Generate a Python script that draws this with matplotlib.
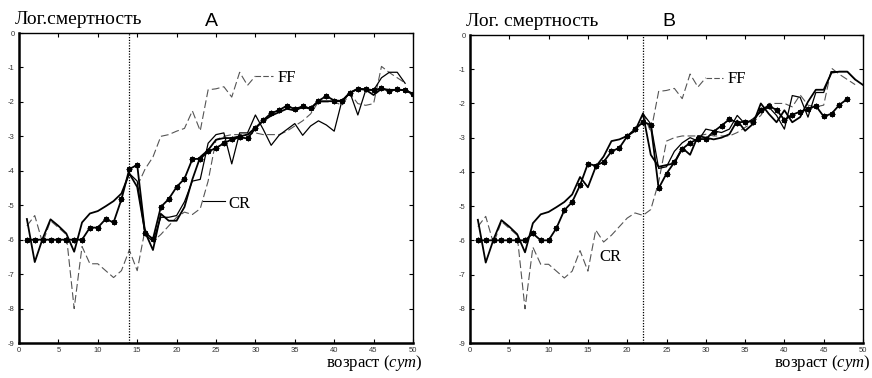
import numpy as np
import matplotlib
matplotlib.use("Agg")
import matplotlib.pyplot as plt

# --- data (day, log mortality) ---
days = np.arange(1, 51)

# control on restricted diet (same in both panels)
cr_ctrl = [-5.6, -5.3, -6.1, -5.45, -5.65, -5.85, -8.0, -6.2, -6.7, -6.7,
           -6.9, -7.1, -6.9, -6.3, -6.9, -5.7, -6.05, -5.85, -5.6, -5.35,
           -5.2, -5.27, -5.1, -4.3, -3.1, -3.0, -2.95, -2.95, -2.95, -2.9,
           -2.95, -2.95, -2.95, -2.85, -2.7, -2.55, -2.35, -2.0, -2.0, -2.0,
           -2.1, -1.75, -2.05, -2.1, -2.05, -0.97, -1.15, -1.3, -1.45]
# control on full diet, days 15..30
ff_days = np.arange(15, 31)
ff_ctrl = [-4.45, -3.95, -3.6, -3.0, -2.95, -2.85, -2.77, -2.26, -2.84, -1.65,
           -1.62, -1.56, -1.86, -1.14, -1.52, -1.25]

early_solid = [-5.4, -6.65, -5.97, -5.41, -5.6, -5.82, -6.35, -5.5, -5.24, -5.17,
               -5.03, -4.88, -4.66]

# panel A, switch at day 14
a_switch = 14
a_star = [-6.0, -6.0, -6.0, -6.0, -6.0, -6.0, -6.0, -6.0, -5.65, -5.65,
          -5.4, -5.5, -4.83, -3.95, -3.83, -5.8, -5.98, -5.05, -4.82, -4.47,
          -4.23, -3.66, -3.65, -3.44, -3.34, -3.2, -3.09, -3.03, -3.06, -2.77,
          -2.53, -2.33, -2.24, -2.11, -2.21, -2.13, -2.19, -1.97, -1.83, -1.96,
          -1.97, -1.74, -1.62, -1.63, -1.66, -1.61, -1.68, -1.64, -1.66, -1.76]
a_solid = early_solid + [-4.08, -4.47, -5.78, -6.3, -5.25, -5.45, -5.45, -5.05, -4.25, -3.6,
                         -3.4, -3.1, -3.05, -3.05, -3.0, -2.95, -2.75, -2.55, -2.4, -2.3,
                         -2.2, -2.25, -2.15, -2.2, -1.98, -1.98, -1.98, -1.98, -1.73, -1.62,
                         -1.65, -1.8, -1.62, -1.65, -1.65, -1.66, -1.78]
a_thin_days = np.arange(14, 50)
a_thin = [-4.08, -4.3, -5.85, -6.05, -5.35, -5.35, -5.3, -4.9, -4.3, -4.25,
          -3.2, -2.95, -2.9, -3.8, -2.9, -2.9, -2.38, -2.8, -3.26, -2.97,
          -2.8, -2.63, -2.97, -2.7, -2.55, -2.67, -2.85, -1.95, -1.73, -2.38,
          -1.66, -1.66, -1.3, -1.14, -1.14, -1.46]

# panel B, switch at day 22
b_switch = 22
b_star = [-6.0, -6.0, -6.0, -6.0, -6.0, -6.0, -6.0, -5.8, -6.0, -6.0,
          -5.64, -5.12, -4.88, -4.39, -3.76, -3.82, -3.71, -3.4, -3.3, -2.96,
          -2.75, -2.55, -2.62, -4.48, -4.05, -3.72, -3.33, -3.15, -3.04, -3.04,
          -2.82, -2.65, -2.46, -2.56, -2.53, -2.53, -2.19, -2.07, -2.19, -2.48,
          -2.33, -2.24, -2.17, -2.07, -2.38, -2.3, -2.04, -1.87]
b_solid = early_solid + [-4.15, -4.45, -3.85, -3.55, -3.1, -3.05, -2.95, -2.8, -2.3, -3.5,
                         -3.85, -3.8, -3.75, -3.3, -3.5, -2.95, -3.0, -3.05, -3.0, -2.9,
                         -2.5, -2.8, -2.6, -2.0, -2.3, -2.55, -2.2, -2.55, -2.4, -1.95,
                         -1.6, -1.6, -1.1, -1.07, -1.07, -1.3, -1.46]
b_thin_days = np.arange(22, 50)
b_thin = [-2.3, -2.6, -3.9, -3.85, -3.4, -3.15, -3.0, -3.1, -2.75, -2.8,
          -2.85, -2.75, -2.35, -2.6, -2.45, -2.25, -2.1, -2.35, -2.75, -1.77,
          -1.82, -2.4, -1.68, -1.68, -1.07, -1.07, -1.07, -1.3]

serif = ['Liberation Serif', 'DejaVu Serif']
sans = ['Liberation Sans', 'DejaVu Sans']
plt.rcParams['font.family'] = sans
plt.rcParams['axes.unicode_minus'] = False
plt.rcParams['mathtext.fontset'] = 'custom'
plt.rcParams['mathtext.rm'] = 'Liberation Serif'
plt.rcParams['mathtext.it'] = 'Liberation Serif:italic'


def style(ax):
    ax.set_xlim(0, 50)
    ax.set_ylim(-9, 0)
    ax.set_xticks(range(0, 51, 5))
    ax.set_yticks(range(-9, 1))
    ax.tick_params(direction='in', top=True, right=True, length=3, width=0.8,
                   labelsize=5.5, labelcolor='#333333', pad=3)
    for s in ['top', 'right']:
        ax.spines[s].set_linewidth(1.0)
    for s in ['left', 'bottom']:
        ax.spines[s].set_linewidth(1.8)


def draw(ax, switch, star, solid, thin_days, thin, ff_from):
    ax.plot(days[:len(cr_ctrl)], cr_ctrl, color='#555555', lw=0.8, dashes=(7, 3))
    i0 = list(ff_days).index(ff_from)
    ax.plot(ff_days[i0:], ff_ctrl[i0:], color='#555555', lw=0.8, dashes=(7, 3))
    ax.plot(thin_days, thin, color='black', lw=0.9)
    ax.plot(days[:len(solid)], solid, color='black', lw=1.3)
    ax.plot(days[:len(star)], star, color='black', lw=1.3,
            marker=(8, 2, 0), ms=4, mew=0.9)
    ax.axvline(switch, color='black', lw=0.9, ls=(0, (1, 1.2)))
    style(ax)


fig = plt.figure(figsize=(8.72, 3.78), dpi=100)
axA = fig.add_axes([19 / 872, 35 / 378, 394 / 872, 310 / 378])
axB = fig.add_axes([470 / 872, 35 / 378, 393 / 872, 308 / 378])

draw(axA, a_switch, a_star, a_solid, a_thin_days, a_thin, 15)
draw(axB, b_switch, b_star, b_solid, b_thin_days, b_thin, 22)

# labels
for ax in (axA, axB):
    ax.plot([30, 32.2], [ff_ctrl[-1], ff_ctrl[-1]], color='#555555', lw=0.8, dashes=(5, 2))
    ax.text(32.8, -1.3, 'FF', fontsize=12, family=serif, va='center')
axA.plot([23.4, 26.1], [-4.88, -4.88], color='black', lw=0.8)
axA.text(26.6, -4.95, 'CR', fontsize=12, family=serif, va='center')
axB.text(16.4, -6.5, 'CR', fontsize=12, family=serif, va='center')

fig.text(15 / 872, 1 - 20 / 378, 'Лог.смертность', fontsize=14, family=serif, va='center')
fig.text(466 / 872, 1 - 22 / 378, 'Лог. смертность', fontsize=14, family=serif, va='center')
fig.text(211 / 872, 1 - 22 / 378, 'A', fontsize=14, va='center', ha='center')
fig.text(669 / 872, 1 - 22 / 378, 'B', fontsize=14, va='center', ha='center')
for xr in (422, 870):
    fig.text(xr / 872, 1 - 363 / 378, r'возраст ($\mathit{сут}$)', fontsize=12,
             family=serif, va='center', ha='right')

fig.savefig('out.png', dpi=100)
